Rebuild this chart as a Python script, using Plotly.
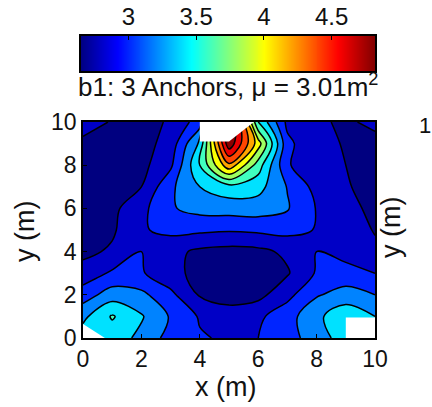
import numpy as np
import plotly.graph_objects as go

# grid (m)
x_m = [0, 1, 2, 3, 4, 5, 6, 7, 8, 9, 10]
y_m = [0, 1, 2, 3, 4, 5, 6, 7, 8, 9, 10]

# area values (m^2), one list per y row
row_y0 = [3.50, 3.50, 3.35, 3.12, 3.02, 2.97, 3.00, 3.12, 3.30, 3.50, 3.45]
row_y1 = [3.35, 3.62, 3.42, 3.18, 2.98, 2.90, 2.96, 3.12, 3.35, 3.55, 3.40]
row_y2 = [3.10, 3.30, 3.25, 3.05, 2.78, 2.71, 2.74, 2.94, 3.18, 3.28, 3.20]
row_y3 = [2.88, 3.03, 3.02, 2.86, 2.74, 2.66, 2.69, 2.78, 3.02, 3.08, 3.00]
row_y4 = [2.75, 2.83, 3.00, 2.86, 2.76, 2.73, 2.75, 2.84, 3.00, 2.92, 2.83]
row_y5 = [2.72, 2.77, 2.98, 3.05, 3.04, 3.02, 3.04, 3.06, 2.99, 2.88, 2.79]
row_y6 = [2.70, 2.75, 2.94, 3.18, 3.27, 3.29, 3.30, 3.22, 2.99, 2.85, 2.76]
row_y7 = [2.70, 2.72, 2.80, 3.16, 3.40, 3.52, 3.47, 3.19, 2.93, 2.82, 2.72]
row_y8 = [2.72, 2.70, 2.74, 2.96, 3.60, 4.35, 3.70, 3.02, 2.86, 2.80, 2.74]
row_y9 = [2.77, 2.73, 2.72, 2.88, 3.45, 4.95, 4.10, 3.05, 2.84, 2.79, 2.76]
row_y10 = [2.86, 2.79, 2.74, 2.82, 3.10, 5.20, 3.60, 2.95, 2.82, 2.78, 2.83]

# contour levels and colour axis
level_start, level_end, level_step = 2.8, 4.8, 0.2
c_min, c_max = 2.65, 4.82
cbar_ticks = [3, 3.5, 4, 4.5]
cbar_ticktext = ["3", "3.5", "4", "4.5"]
xy_ticks = [0, 2, 4, 6, 8, 10]

# no-data areas around the anchors
no_data_x = [[0, 0.75, 0, 0], [9, 10, 10, 9, 9], [4, 4, 5, 5.85, 4]]
no_data_y = [[0, 0, 0.65, 0], [0, 0, 0.95, 0.95, 0], [10, 9.1, 9.1, 10, 10]]

title_text = "b1: 3 Anchors, \u03bc = 3.01m<sup>2</sup>"

z = [row_y0, row_y1, row_y2, row_y3, row_y4, row_y5,
     row_y6, row_y7, row_y8, row_y9, row_y10]


def jet(f):
    f = min(max(f, 0.0), 1.0)

    def c(v):
        return int(round(255 * min(max(v, 0.0), 1.0)))
    r = 1.5 - abs(4 * f - 3)
    g = 1.5 - abs(4 * f - 2)
    b = 1.5 - abs(4 * f - 1)
    return "rgb(%d,%d,%d)" % (c(r), c(g), c(b))


n_levels = int(round((level_end - level_start) / level_step)) + 1
levels = [level_start + i * level_step for i in range(n_levels)]
# MATLAB-like band colouring: band above level L gets jet((L-cmin)/(cmax-cmin))
band_colors = [jet(0.0)] + [jet((L - c_min) / (c_max - c_min)) for L in levels]
fill_scale = [[k / n_levels, col] for k, col in enumerate(band_colors)]

jet_scale = [[0, jet(0)], [0.125, jet(0.125)], [0.375, jet(0.375)],
             [0.625, jet(0.625)], [0.875, jet(0.875)], [1, jet(1)]]

FONT = "Liberation Sans, Arial, sans-serif"
TXT = "#111"

fig = go.Figure()
fig.add_trace(go.Contour(
    x=x_m, y=y_m, z=z,
    autocontour=False,
    contours=dict(start=level_start, end=level_end, size=level_step,
                  coloring="fill", showlines=True),
    colorscale=fill_scale,
    line=dict(color="black", width=1.5),
    showscale=False,
    hoverinfo="skip",
    xaxis="x", yaxis="y",
))

for px, py in zip(no_data_x, no_data_y):
    fig.add_trace(go.Scatter(x=px, y=py, mode="lines", fill="toself",
                             fillcolor="white", line=dict(width=0, color="white"),
                             hoverinfo="skip", showlegend=False,
                             xaxis="x", yaxis="y"))

# colour bar drawn as a strip on its own axes
cb_vals = np.linspace(c_min, c_max, 300)
fig.add_trace(go.Heatmap(x=cb_vals, y=[0, 1], z=[cb_vals, cb_vals],
                         colorscale=jet_scale, zmin=c_min, zmax=c_max,
                         showscale=False, hoverinfo="skip",
                         xaxis="x2", yaxis="y2"))

# layout geometry (px)
W, H = 432, 407
ml, mr, mt, mb = 81, 57, 36, 69
pw, ph = W - ml - mr, H - mt - mb


def px_x(p):
    return (p - ml) / pw


def px_y(p):
    return (H - mb - p) / ph


axis_common = dict(showline=True, mirror=True, linecolor="black", linewidth=1.5,
                   ticks="inside", ticklen=4, tickcolor="black",
                   showgrid=False, zeroline=False,
                   tickfont=dict(family=FONT, size=23, color=TXT))

fig.update_layout(
    width=W, height=H,
    margin=dict(l=ml, r=mr, t=mt, b=mb, autoexpand=False),
    paper_bgcolor="white", plot_bgcolor="white",
    showlegend=False,
    xaxis=dict(range=[0, 10], tickvals=xy_ticks, domain=[px_x(83), 1], anchor="y",
               **axis_common),
    yaxis=dict(range=[0, 10], tickvals=xy_ticks, domain=[0, px_y(122)], anchor="x",
               **axis_common),
    xaxis2=dict(range=[c_min, c_max], tickvals=cbar_ticks, ticktext=cbar_ticktext,
                side="top", domain=[0, 1], anchor="y2",
                **{**axis_common, "tickfont": dict(family=FONT, size=24, color=TXT)}),
    yaxis2=dict(range=[0, 1], domain=[px_y(71), 1], anchor="x2",
                showticklabels=False, showline=True, mirror=True,
                linecolor="black", linewidth=1.5, ticks="",
                showgrid=False, zeroline=False),
    font=dict(family=FONT, color=TXT),
    annotations=[
        dict(text=title_text, x=px_x(228), y=px_y(86), xref="paper", yref="paper",
             xanchor="center", yanchor="middle", showarrow=False,
             font=dict(family=FONT, size=26, color=TXT)),
        dict(text="x (m)", x=px_x(225), y=px_y(387), xref="paper", yref="paper",
             xanchor="center", yanchor="middle", showarrow=False,
             font=dict(family=FONT, size=27, color=TXT)),
        dict(text="y (m)", x=px_x(25), y=px_y(232), xref="paper", yref="paper",
             xanchor="center", yanchor="middle", showarrow=False, textangle=-90,
             font=dict(family=FONT, size=27, color=TXT)),
        dict(text="y (m)", x=px_x(391), y=px_y(228), xref="paper", yref="paper",
             xanchor="center", yanchor="middle", showarrow=False, textangle=-90,
             font=dict(family=FONT, size=27, color=TXT)),
        dict(text="1", x=px_x(425), y=px_y(126), xref="paper", yref="paper",
             xanchor="center", yanchor="middle", showarrow=False,
             font=dict(family=FONT, size=22, color=TXT)),
    ],
)

fig.write_html("out.html", config={"displayModeBar": False},
               post_script="document.body.style.margin='0px';")
